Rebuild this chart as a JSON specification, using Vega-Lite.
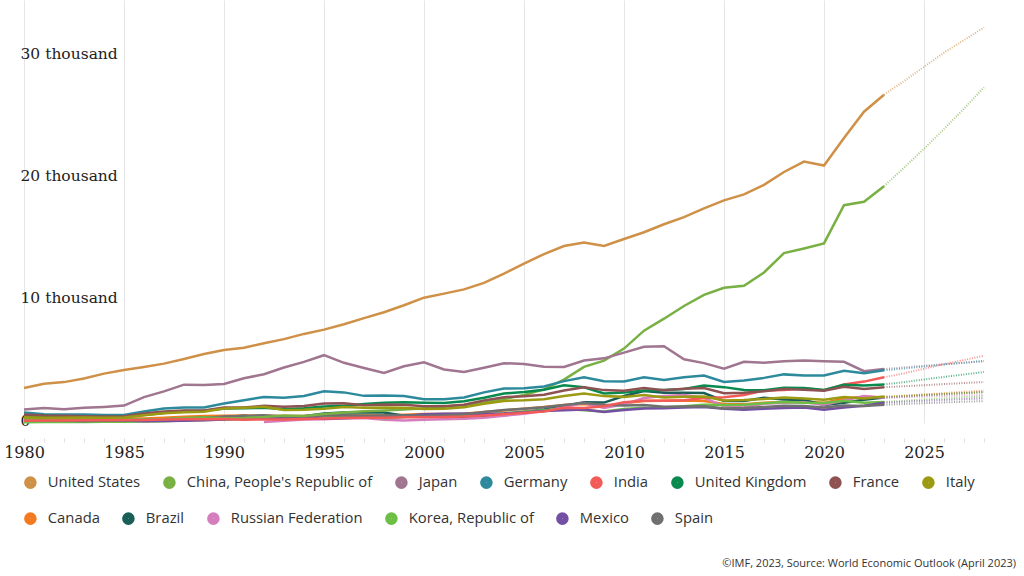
{
  "$schema": "https://vega.github.io/schema/vega-lite/v6.json",
  "width": 960,
  "height": 423,
  "autosize": {"type": "none"},
  "padding": {"left": 24, "top": 0, "right": 40, "bottom": 153},
  "background": "white",
  "title": {"text": "©IMF, 2023, Source: World Economic Outlook (April 2023)", "orient": "bottom", "anchor": "end", "frame": "group", "font": "Open Sans", "fontSize": 11, "fontWeight": "normal", "color": "#333333", "dx": 32, "offset": 23},
  "datasets": {
    "names": [
      {"code": "US", "country": "United States"},
      {"code": "CN", "country": "China, People's Republic of"},
      {"code": "JP", "country": "Japan"},
      {"code": "DE", "country": "Germany"},
      {"code": "IN", "country": "India"},
      {"code": "GB", "country": "United Kingdom"},
      {"code": "FR", "country": "France"},
      {"code": "IT", "country": "Italy"},
      {"code": "CA", "country": "Canada"},
      {"code": "BR", "country": "Brazil"},
      {"code": "RU", "country": "Russian Federation"},
      {"code": "KR", "country": "Korea, Republic of"},
      {"code": "MX", "country": "Mexico"},
      {"code": "ES", "country": "Spain"}
    ],
    "gdp": [
      {"year": 1980, "US": 2857, "CN": 303, "JP": 1105, "DE": 854, "IN": 186, "GB": 604, "FR": 703, "IT": 480, "CA": 276, "BR": 235, "KR": 65, "MX": 229, "ES": 232},
      {"year": 1981, "US": 3207, "CN": 292, "JP": 1218, "DE": 717, "IN": 196, "GB": 586, "FR": 618, "IT": 434, "CA": 307, "BR": 263, "KR": 74, "MX": 293, "ES": 205},
      {"year": 1982, "US": 3344, "CN": 284, "JP": 1134, "DE": 700, "IN": 204, "GB": 558, "FR": 586, "IT": 430, "CA": 314, "BR": 281, "KR": 80, "MX": 192, "ES": 199},
      {"year": 1983, "US": 3634, "CN": 304, "JP": 1243, "DE": 701, "IN": 222, "GB": 530, "FR": 559, "IT": 444, "CA": 341, "BR": 203, "KR": 89, "MX": 165, "ES": 172},
      {"year": 1984, "US": 4038, "CN": 313, "JP": 1318, "DE": 652, "IN": 215, "GB": 502, "FR": 531, "IT": 439, "CA": 356, "BR": 209, "KR": 99, "MX": 195, "ES": 175},
      {"year": 1985, "US": 4339, "CN": 309, "JP": 1427, "DE": 664, "IN": 237, "GB": 532, "FR": 553, "IT": 456, "CA": 365, "BR": 222, "KR": 103, "MX": 206, "ES": 183},
      {"year": 1986, "US": 4580, "CN": 300, "JP": 2121, "DE": 946, "IN": 253, "GB": 647, "FR": 771, "IT": 637, "CA": 377, "BR": 268, "KR": 117, "MX": 141, "ES": 252},
      {"year": 1987, "US": 4855, "CN": 327, "JP": 2584, "DE": 1180, "IN": 283, "GB": 812, "FR": 934, "IT": 797, "CA": 431, "BR": 294, "KR": 147, "MX": 154, "ES": 317},
      {"year": 1988, "US": 5236, "CN": 411, "JP": 3136, "DE": 1268, "IN": 301, "GB": 991, "FR": 1018, "IT": 876, "CA": 507, "BR": 330, "KR": 199, "MX": 194, "ES": 374},
      {"year": 1989, "US": 5642, "CN": 461, "JP": 3118, "DE": 1263, "IN": 301, "GB": 1003, "FR": 1025, "IT": 922, "CA": 566, "BR": 447, "KR": 246, "MX": 232, "ES": 417},
      {"year": 1990, "US": 5963, "CN": 397, "JP": 3196, "DE": 1599, "IN": 326, "GB": 1192, "FR": 1269, "IT": 1183, "CA": 596, "BR": 462, "KR": 283, "MX": 292, "ES": 536},
      {"year": 1991, "US": 6158, "CN": 413, "JP": 3657, "DE": 1868, "IN": 275, "GB": 1210, "FR": 1269, "IT": 1239, "CA": 612, "BR": 602, "KR": 330, "MX": 346, "ES": 577},
      {"year": 1992, "US": 6520, "CN": 492, "JP": 3988, "DE": 2135, "IN": 294, "GB": 1248, "FR": 1401, "IT": 1320, "CA": 594, "BR": 400, "RU": 85, "KR": 356, "MX": 397, "ES": 631},
      {"year": 1993, "US": 6859, "CN": 617, "JP": 4544, "DE": 2071, "IN": 284, "GB": 1123, "FR": 1323, "IT": 1066, "CA": 579, "BR": 437, "RU": 184, "KR": 392, "MX": 454, "ES": 526},
      {"year": 1994, "US": 7287, "CN": 564, "JP": 4999, "DE": 2205, "IN": 334, "GB": 1206, "FR": 1394, "IT": 1090, "CA": 579, "BR": 558, "RU": 277, "KR": 463, "MX": 473, "ES": 528},
      {"year": 1995, "US": 7640, "CN": 734, "JP": 5546, "DE": 2594, "IN": 367, "GB": 1340, "FR": 1601, "IT": 1175, "CA": 605, "BR": 785, "RU": 314, "KR": 566, "MX": 344, "ES": 612},
      {"year": 1996, "US": 8073, "CN": 863, "JP": 4923, "DE": 2504, "IN": 400, "GB": 1415, "FR": 1606, "IT": 1307, "CA": 631, "BR": 850, "RU": 392, "KR": 610, "MX": 398, "ES": 642},
      {"year": 1997, "US": 8578, "CN": 961, "JP": 4492, "DE": 2219, "IN": 423, "GB": 1563, "FR": 1452, "IT": 1240, "CA": 661, "BR": 883, "RU": 405, "KR": 570, "MX": 480, "ES": 589},
      {"year": 1998, "US": 9063, "CN": 1029, "JP": 4098, "DE": 2246, "IN": 428, "GB": 1654, "FR": 1503, "IT": 1271, "CA": 635, "BR": 864, "RU": 271, "KR": 383, "MX": 502, "ES": 619},
      {"year": 1999, "US": 9631, "CN": 1094, "JP": 4636, "DE": 2201, "IN": 466, "GB": 1688, "FR": 1493, "IT": 1253, "CA": 678, "BR": 599, "RU": 196, "KR": 497, "MX": 579, "ES": 633},
      {"year": 2000, "US": 10251, "CN": 1211, "JP": 4968, "DE": 1950, "IN": 476, "GB": 1666, "FR": 1366, "IT": 1149, "CA": 744, "BR": 655, "RU": 260, "KR": 576, "MX": 708, "ES": 599},
      {"year": 2001, "US": 10582, "CN": 1339, "JP": 4374, "DE": 1950, "IN": 493, "GB": 1646, "FR": 1377, "IT": 1173, "CA": 739, "BR": 559, "RU": 307, "KR": 547, "MX": 756, "ES": 628},
      {"year": 2002, "US": 10929, "CN": 1471, "JP": 4182, "DE": 2079, "IN": 523, "GB": 1781, "FR": 1494, "IT": 1279, "CA": 760, "BR": 508, "RU": 345, "KR": 627, "MX": 772, "ES": 708},
      {"year": 2003, "US": 11457, "CN": 1660, "JP": 4519, "DE": 2505, "IN": 618, "GB": 2066, "FR": 1840, "IT": 1578, "CA": 895, "BR": 558, "RU": 430, "KR": 702, "MX": 729, "ES": 906},
      {"year": 2004, "US": 12217, "CN": 1955, "JP": 4893, "DE": 2815, "IN": 722, "GB": 2419, "FR": 2115, "IT": 1806, "CA": 1026, "BR": 669, "RU": 591, "KR": 793, "MX": 782, "ES": 1068},
      {"year": 2005, "US": 13039, "CN": 2286, "JP": 4831, "DE": 2846, "IN": 834, "GB": 2539, "FR": 2196, "IT": 1858, "CA": 1173, "BR": 892, "RU": 764, "KR": 934, "MX": 877, "ES": 1158},
      {"year": 2006, "US": 13816, "CN": 2752, "JP": 4601, "DE": 2994, "IN": 949, "GB": 2713, "FR": 2318, "IT": 1949, "CA": 1319, "BR": 1107, "RU": 990, "KR": 1053, "MX": 975, "ES": 1279},
      {"year": 2007, "US": 14474, "CN": 3550, "JP": 4579, "DE": 3425, "IN": 1238, "GB": 3091, "FR": 2657, "IT": 2213, "CA": 1468, "BR": 1397, "RU": 1300, "KR": 1172, "MX": 1053, "ES": 1475},
      {"year": 2008, "US": 14770, "CN": 4594, "JP": 5106, "DE": 3745, "IN": 1224, "GB": 2924, "FR": 2918, "IT": 2408, "CA": 1553, "BR": 1696, "RU": 1661, "KR": 1047, "MX": 1110, "ES": 1631},
      {"year": 2009, "US": 14478, "CN": 5102, "JP": 5289, "DE": 3412, "IN": 1365, "GB": 2410, "FR": 2690, "IT": 2199, "CA": 1376, "BR": 1667, "RU": 1223, "KR": 944, "MX": 900, "ES": 1492},
      {"year": 2010, "US": 15049, "CN": 6087, "JP": 5759, "DE": 3400, "IN": 1708, "GB": 2485, "FR": 2643, "IT": 2137, "CA": 1617, "BR": 2209, "RU": 1525, "KR": 1144, "MX": 1058, "ES": 1422},
      {"year": 2011, "US": 15600, "CN": 7552, "JP": 6233, "DE": 3750, "IN": 1823, "GB": 2664, "FR": 2863, "IT": 2294, "CA": 1793, "BR": 2616, "RU": 2046, "KR": 1253, "MX": 1181, "ES": 1480},
      {"year": 2012, "US": 16254, "CN": 8532, "JP": 6272, "DE": 3528, "IN": 1828, "GB": 2707, "FR": 2683, "IT": 2088, "CA": 1828, "BR": 2465, "RU": 2209, "KR": 1278, "MX": 1201, "ES": 1325},
      {"year": 2013, "US": 16843, "CN": 9570, "JP": 5212, "DE": 3733, "IN": 1857, "GB": 2785, "FR": 2811, "IT": 2141, "CA": 1847, "BR": 2473, "RU": 2293, "KR": 1370, "MX": 1274, "ES": 1355},
      {"year": 2014, "US": 17551, "CN": 10476, "JP": 4897, "DE": 3890, "IN": 2039, "GB": 3065, "FR": 2856, "IT": 2162, "CA": 1805, "BR": 2456, "RU": 2059, "KR": 1484, "MX": 1315, "ES": 1372},
      {"year": 2015, "US": 18206, "CN": 11062, "JP": 4445, "DE": 3357, "IN": 2104, "GB": 2934, "FR": 2439, "IT": 1837, "CA": 1556, "BR": 1802, "RU": 1363, "KR": 1466, "MX": 1171, "ES": 1196},
      {"year": 2016, "US": 18695, "CN": 11233, "JP": 5004, "DE": 3468, "IN": 2295, "GB": 2700, "FR": 2472, "IT": 1878, "CA": 1528, "BR": 1796, "RU": 1277, "KR": 1500, "MX": 1078, "ES": 1233},
      {"year": 2017, "US": 19477, "CN": 12310, "JP": 4931, "DE": 3690, "IN": 2651, "GB": 2683, "FR": 2595, "IT": 1962, "CA": 1650, "BR": 2063, "RU": 1574, "KR": 1623, "MX": 1159, "ES": 1313},
      {"year": 2018, "US": 20533, "CN": 13895, "JP": 5041, "DE": 3977, "IN": 2703, "GB": 2878, "FR": 2790, "IT": 2092, "CA": 1725, "BR": 1917, "RU": 1657, "KR": 1725, "MX": 1222, "ES": 1421},
      {"year": 2019, "US": 21381, "CN": 14280, "JP": 5118, "DE": 3889, "IN": 2836, "GB": 2858, "FR": 2729, "IT": 2012, "CA": 1743, "BR": 1873, "RU": 1693, "KR": 1651, "MX": 1269, "ES": 1394},
      {"year": 2020, "US": 21060, "CN": 14688, "JP": 5048, "DE": 3887, "IN": 2672, "GB": 2707, "FR": 2636, "IT": 1897, "CA": 1647, "BR": 1476, "RU": 1489, "KR": 1644, "MX": 1090, "ES": 1277},
      {"year": 2021, "US": 23315, "CN": 17820, "JP": 5006, "DE": 4263, "IN": 3150, "GB": 3123, "FR": 2957, "IT": 2120, "CA": 2001, "BR": 1649, "RU": 1837, "KR": 1811, "MX": 1273, "ES": 1427},
      {"year": 2022, "US": 25464, "CN": 18100, "JP": 4234, "DE": 4075, "IN": 3386, "GB": 3071, "FR": 2784, "IT": 2012, "CA": 2140, "BR": 1894, "RU": 2215, "KR": 1665, "MX": 1415, "ES": 1400},
      {"year": 2023, "US": 26855, "CN": 19374, "JP": 4410, "DE": 4309, "IN": 3737, "GB": 3159, "FR": 2924, "IT": 2170, "CA": 2090, "BR": 2081, "RU": 2063, "KR": 1721, "MX": 1663, "ES": 1490},
      {"year": 2024, "US": 27966, "CN": 20881, "JP": 4550, "DE": 4460, "IN": 4060, "GB": 3340, "FR": 3010, "IT": 2240, "CA": 2210, "BR": 2170, "RU": 2110, "KR": 1820, "MX": 1740, "ES": 1560},
      {"year": 2025, "US": 29130, "CN": 22430, "JP": 4680, "DE": 4620, "IN": 4440, "GB": 3560, "FR": 3090, "IT": 2310, "CA": 2330, "BR": 2260, "RU": 2160, "KR": 1920, "MX": 1810, "ES": 1620},
      {"year": 2026, "US": 30290, "CN": 24040, "JP": 4810, "DE": 4780, "IN": 4810, "GB": 3770, "FR": 3180, "IT": 2380, "CA": 2440, "BR": 2350, "RU": 2200, "KR": 2010, "MX": 1880, "ES": 1680},
      {"year": 2027, "US": 31320, "CN": 25720, "JP": 4930, "DE": 4930, "IN": 5150, "GB": 3970, "FR": 3270, "IT": 2440, "CA": 2550, "BR": 2440, "RU": 2250, "KR": 2090, "MX": 1950, "ES": 1740},
      {"year": 2028, "US": 32350, "CN": 27450, "JP": 5050, "DE": 5080, "IN": 5500, "GB": 4170, "FR": 3350, "IT": 2510, "CA": 2650, "BR": 2530, "RU": 2290, "KR": 2170, "MX": 2010, "ES": 1790}
    ]
  },
  "data": {"name": "gdp"},
  "transform": [
    {"fold": ["US", "CN", "JP", "DE", "IN", "GB", "FR", "IT", "CA", "BR", "RU", "KR", "MX", "ES"], "as": ["code", "gdp"]},
    {"lookup": "code", "from": {"data": {"name": "names"}, "key": "code", "fields": ["country"]}}
  ],
  "encoding": {
    "x": {
      "field": "year", "type": "quantitative",
      "scale": {"domain": [1980, 2028], "nice": false, "zero": false},
      "axis": {
        "title": null, "domain": false, "format": "d",
        "values": [1980,1981,1982,1983,1984,1985,1986,1987,1988,1989,1990,1991,1992,1993,1994,1995,1996,1997,1998,1999,2000,2001,2002,2003,2004,2005,2006,2007,2008,2009,2010,2011,2012,2013,2014,2015,2016,2017,2018,2019,2020,2021,2022,2023,2024,2025,2026,2027,2028],
        "labelExpr": "datum.value % 5 === 0 ? datum.label : ''",
        "grid": true, "gridColor": "#e6e6e6", "gridWidth": 1,
        "gridOpacity": {"condition": {"test": "datum.value % 5 === 0", "value": 1}, "value": 0},
        "ticks": true, "tickColor": "#e0e0e0", "tickSize": 4, "offset": 15,
        "labelFont": "DejaVu Serif", "labelFontSize": 16, "labelColor": "#222222", "labelPadding": 2,
        "labelFlush": false, "labelOverlap": false
      }
    },
    "y": {
      "field": "gdp", "type": "quantitative",
      "scale": {"domain": [0, 34600], "nice": false},
      "axis": {
        "title": null, "domain": false, "ticks": false, "tickSize": 0, "grid": false,
        "values": [0, 10000, 20000, 30000],
        "labelExpr": "datum.value === 0 ? '0' : (datum.value / 1000) + ' thousand'",
        "labelAlign": "left", "labelBaseline": "middle", "labelPadding": 4, "labelOffset": -3,
        "labelFont": "DejaVu Serif", "labelFontSize": 15.5, "labelColor": "#222222"
      }
    }
  },
  "layer": [
    {
      "transform": [{"filter": {"field": "code", "oneOf": ["CA", "BR", "RU", "KR", "MX", "ES"]}}],
      "encoding": {
        "color": {
          "field": "country", "type": "nominal",
          "scale": {
            "domain": ["Canada", "Brazil", "Russian Federation", "Korea, Republic of", "Mexico", "Spain"],
            "range": ["#F47A20", "#1A5F57", "#D67EBD", "#6CBE45", "#7450A4", "#707070"]
          },
          "legend": {"legendX": -1, "legendY": 511}
        }
      },
      "layer": [
        {"transform": [{"filter": "datum.year <= 2023"}], "mark": {"type": "line", "strokeWidth": 2.5}},
        {"transform": [{"filter": "datum.year >= 2023"}], "mark": {"type": "line", "strokeWidth": 2, "strokeDash": [1, 1.5], "opacity": 0.65}}
      ]
    },
    {
      "transform": [{"filter": {"field": "code", "oneOf": ["US", "CN", "JP", "DE", "IN", "GB", "FR", "IT"]}}],
      "encoding": {
        "color": {
          "field": "country", "type": "nominal",
          "scale": {
            "domain": ["United States", "China, People's Republic of", "Japan", "Germany", "India", "United Kingdom", "France", "Italy"],
            "range": ["#CF9047", "#78B043", "#A07590", "#2C8A9C", "#F25B57", "#088A4E", "#8E5252", "#9C9A12"]
          },
          "legend": {"legendX": -1, "legendY": 475}
        }
      },
      "layer": [
        {"transform": [{"filter": "datum.year <= 2023"}], "mark": {"type": "line", "strokeWidth": 2.5}},
        {"transform": [{"filter": "datum.year >= 2023"}], "mark": {"type": "line", "strokeWidth": 2, "strokeDash": [1, 1.5], "opacity": 0.65}}
      ]
    }
  ],
  "resolve": {"scale": {"color": "independent"}},
  "config": {
    "view": {"stroke": null},
    "legend": {
      "title": null, "orient": "none", "direction": "horizontal",
      "symbolType": "circle", "symbolSize": 36, "symbolStrokeWidth": 6.6, "symbolOpacity": 1, "symbolDash": [],
      "labelFont": "Open Sans", "labelFontSize": 14.8, "labelColor": "#333333", "labelOffset": 10,
      "columnPadding": 12, "rowPadding": 21, "labelLimit": 400, "padding": 0
    }
  }
}
